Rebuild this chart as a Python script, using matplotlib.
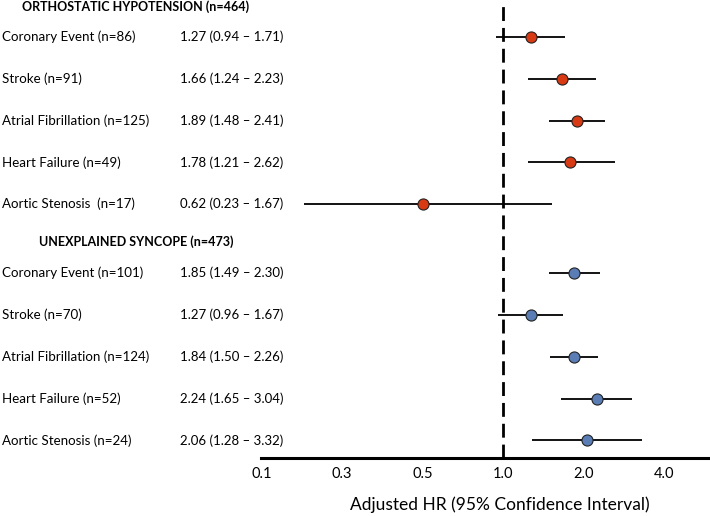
import matplotlib
matplotlib.use('Agg')
import matplotlib.pyplot as plt
from matplotlib.transforms import blended_transform_factory

# Donnees
groups = ['ORTHOSTATIC HYPOTENSION (n=464)', 'UNEXPLAINED SYNCOPE (n=473)']

oh_labels = ['Coronary Event (n=86)', 'Stroke (n=91)', 'Atrial Fibrillation (n=125)',
             'Heart Failure (n=49)', 'Aortic Stenosis  (n=17)']
oh_text = ['1.27 (0.94 \u2013 1.71)', '1.66 (1.24 \u2013 2.23)', '1.89 (1.48 \u2013 2.41)',
           '1.78 (1.21 \u2013 2.62)', '0.62 (0.23 \u2013 1.67)']
# positions des marques (le dernier rang est dessine a ~0.5 sur l'original)
oh_hr = [1.27, 1.66, 1.89, 1.78, 0.50]
oh_lo = [0.94, 1.24, 1.48, 1.24, 0.18]
oh_hi = [1.71, 2.23, 2.41, 2.62, 1.52]

us_labels = ['Coronary Event (n=101)', 'Stroke (n=70)', 'Atrial Fibrillation (n=124)',
             'Heart Failure (n=52)', 'Aortic Stenosis (n=24)']
us_text = ['1.85 (1.49 \u2013 2.30)', '1.27 (0.96 \u2013 1.67)', '1.84 (1.50 \u2013 2.26)',
           '2.24 (1.65 \u2013 3.04)', '2.06 (1.28 \u2013 3.32)']
us_hr = [1.85, 1.27, 1.84, 2.24, 2.06]
us_lo = [1.49, 0.96, 1.50, 1.65, 1.28]
us_hi = [2.30, 1.67, 2.26, 3.04, 3.32]

tick_vals = [0.125, 0.25, 0.5, 1.0, 2.0, 4.0]
tick_labels = ['0.1', '0.3', '0.5', '1.0', '2.0', '4.0']

RED = '#D83A14'
BLUE = '#5B7DB5'

plt.rcParams['font.family'] = ['Lato', 'DejaVu Sans']

W, H = 710, 516
fig = plt.figure(figsize=(W / 100, H / 100), dpi=100)
# axes : de x=261 a 710 px, de y=0 a 457.7 px
ax = fig.add_axes([261 / W, (H - 457.7) / H, (W - 261) / W, 457.7 / H])

ax.set_xscale('log', base=2)
ax.set_xlim(2 ** ((261 - 503) / 80.5), 2 ** ((710 - 503) / 80.5))
# rangs : 41.8 px entre deux lignes, premier rang a y=37 px
y_top = 1 - 37 / 41.8
y_bot = 1 + (457.7 - 37) / 41.8
ax.set_ylim(y_bot, y_top)

oh_y = [1, 2, 3, 4, 5]
us_y = [6.65, 7.65, 8.65, 9.65, 10.65]
hdr_y = [1 - 30 / 41.8, 6.65 - 32 / 41.8]

ax.axvline(1.0, color='black', lw=2.0, ls=(0, (5, 2.5)), zorder=1)

for ys, hr, lo, hi, col in [(oh_y, oh_hr, oh_lo, oh_hi, RED),
                            (us_y, us_hr, us_lo, us_hi, BLUE)]:
    ax.hlines(ys, lo, hi, color='black', lw=1.3, zorder=2)
    ax.plot(hr, ys, 'o', ms=8, mfc=col, mec='#222222', mew=0.8, ls='none', zorder=3)

tr = blended_transform_factory(fig.transFigure, ax.transData)
for ys, labels, texts in [(oh_y, oh_labels, oh_text), (us_y, us_labels, us_text)]:
    for y, lab, txt in zip(ys, labels, texts):
        ax.text(2 / W, y, lab, transform=tr, ha='left', va='center', fontsize=9.6,
                clip_on=False)
        ax.text(180 / W, y, txt, transform=tr, ha='left', va='center', fontsize=9.5,
                clip_on=False)
for y, g in zip(hdr_y, groups):
    ax.text(136 / W, y, g, transform=tr, ha='center', va='center', fontsize=9,
            fontweight='bold', clip_on=False)

for s in ['top', 'right', 'left']:
    ax.spines[s].set_visible(False)
ax.spines['bottom'].set_linewidth(2.2)
ax.set_yticks([])
ax.set_xticks(tick_vals)
ax.set_xticklabels(tick_labels, fontsize=10.5)
ax.minorticks_off()
ax.tick_params(axis='x', length=0, pad=7)
ax.set_xlabel('Adjusted HR (95% Confidence Interval)', fontsize=12.5)
ax.xaxis.label.set_va('center')
ax.xaxis.set_label_coords((500 - 261) / (W - 261), -(505 - 457.7) / 457.7)

fig.savefig('out.png', dpi=100)
